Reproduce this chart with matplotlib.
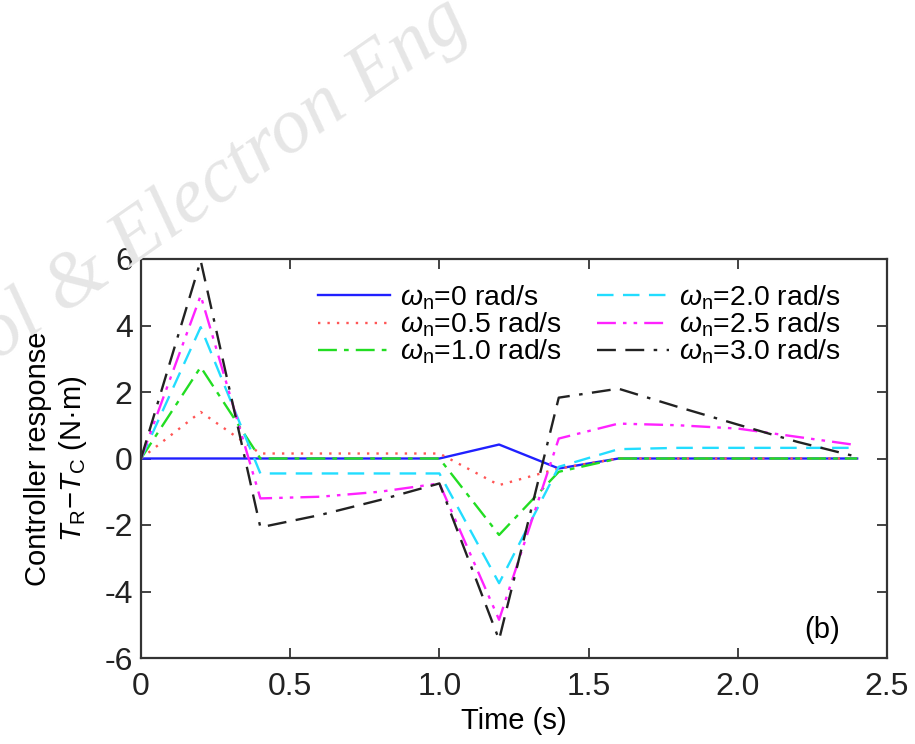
import matplotlib
matplotlib.use("Agg")
import matplotlib.pyplot as plt

plt.rcParams['font.family'] = ['Liberation Sans', 'DejaVu Sans']
plt.rcParams['mathtext.fontset'] = 'custom'
plt.rcParams['mathtext.rm'] = 'Liberation Sans'
plt.rcParams['mathtext.it'] = 'Liberation Sans:italic'

# Data
time = [0.0, 0.2, 0.4, 0.6, 0.8, 1.0, 1.2, 1.4, 1.6, 1.8, 2.0, 2.2, 2.4]
w0_0 = [0.0, 0.0, 0.0, 0.0, 0.0, 0.0, 0.42, -0.3, 0.0, 0.0, 0.0, 0.0, 0.0]
w0_5 = [0.0, 1.4, 0.15, 0.15, 0.15, 0.15, -0.8, -0.3, 0.0, 0.0, 0.0, 0.0, 0.0]
w1_0 = [0.0, 2.75, 0.0, 0.0, 0.0, 0.0, -2.3, -0.4, 0.0, 0.0, 0.0, 0.0, 0.0]
w2_0 = [0.0, 3.95, -0.45, -0.45, -0.45, -0.45, -3.75, -0.25, 0.28, 0.32, 0.32, 0.32, 0.32]
w2_5 = [0.0, 4.9, -1.2, -1.15, -1.0, -0.75, -4.85, 0.6, 1.05, 1.0, 0.9, 0.65, 0.4]
w3_0 = [0.0, 5.95, -2.07, -1.7, -1.25, -0.75, -5.45, 1.83, 2.1, 1.55, 1.02, 0.5, 0.05]

labels = [r'$\omega_{\mathrm{n}}$=0 rad/s', r'$\omega_{\mathrm{n}}$=0.5 rad/s',
          r'$\omega_{\mathrm{n}}$=1.0 rad/s', r'$\omega_{\mathrm{n}}$=2.0 rad/s',
          r'$\omega_{\mathrm{n}}$=2.5 rad/s', r'$\omega_{\mathrm{n}}$=3.0 rad/s']
xticks = [0, 0.5, 1.0, 1.5, 2.0, 2.5]
xticklabels = ['0', '0.5', '1.0', '1.5', '2.0', '2.5']
yticks = [-6, -4, -2, 0, 2, 4, 6]
yticklabels = ['-6', '-4', '-2', '0', '2', '4', '6']

series = [w0_0, w0_5, w1_0, w2_0, w2_5, w3_0]
colors = ['#2020ff', '#ff5555', '#22dd22', '#22ddff', '#ff22ff', '#222222']
styles = ['-', (0, (1, 3)), (0, (8, 3, 2, 3)), (0, (7, 4)),
          (0, (8, 3, 1.5, 3, 1.5, 3)), (0, (8, 4, 8, 4, 1.5, 4))]

fig = plt.figure(figsize=(9.15, 7.44), dpi=100)

# watermark
fig.text(0.515, 0.962, 'ol & Electron Eng', fontsize=57, color='#e6e6e6',
         family=['Liberation Serif'], style='italic', rotation=35,
         rotation_mode='anchor', ha='right', va='baseline', zorder=0)

ax = fig.add_axes([141/915, 1-658/744, (887-141)/915, (658-259)/744])
ax.patch.set_alpha(0)

for i in range(len(series)):
    ax.plot(time, series[i], color=colors[i], linestyle=styles[i], lw=1.7, label=labels[i])

ax.set_xlim(0, 2.5)
ax.set_ylim(-6, 6)
ax.set_xticks(xticks)
ax.set_xticklabels(xticklabels)
ax.set_yticks(yticks)
ax.set_yticklabels(yticklabels)
ax.tick_params(direction='in', top=True, right=True, length=7, width=1.2,
               labelsize=23, colors='#222222')
ax.tick_params(axis='x', pad=10)
ax.tick_params(axis='y', pad=6)
for s in ax.spines.values():
    s.set_linewidth(1.6)
    s.set_color('#333333')

ax.set_xlabel('Time (s)', fontsize=21, labelpad=4)
ax.set_ylabel('Controller response\n' + r'$T_{\mathrm{R}}$' + '\u2212' + r'$T_{\mathrm{C}}$' + ' (N\u00b7m)',
              fontsize=21, labelpad=11, linespacing=1.2)

ax.text(0.913, 0.07, '(b)', transform=ax.transAxes, fontsize=21, ha='center', va='center')

leg = ax.legend(ncol=2, loc='upper left', bbox_to_anchor=(0.222, 0.968), frameon=False,
                fontsize=20.4, handlelength=2.55, handletextpad=0.35, columnspacing=1.24,
                labelspacing=-0.04, borderaxespad=0)

fig.savefig('out.png', dpi=100)
